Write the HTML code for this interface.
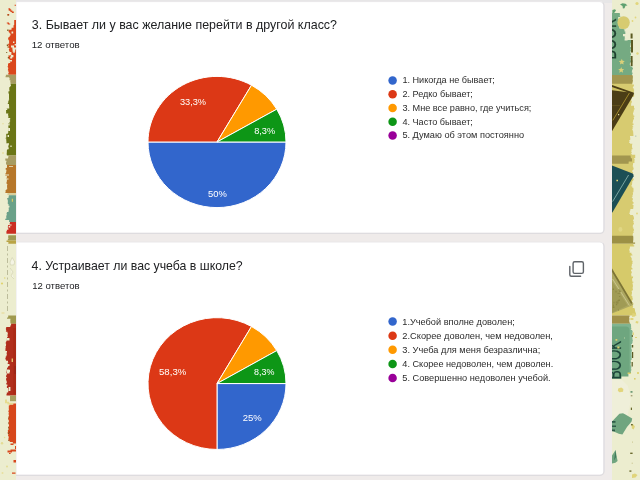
<!DOCTYPE html>
<html lang="ru"><head><meta charset="utf-8"><title>Опрос</title>
<style>
html,body{margin:0;padding:0;background:#ecedcf;}
body{width:640px;height:480px;overflow:hidden;font-family:"Liberation Sans", sans-serif;}
svg{display:block;font-family:"Liberation Sans", sans-serif;}
</style></head><body>
<svg width="640" height="480" viewBox="0 0 640 480">
<rect x="0" y="0" width="640" height="480" fill="#ecedcf"/>
<rect x="16" y="0" width="596" height="480" fill="#efebea"/>
<rect x="16" y="0" width="596" height="3" fill="#e7e6e7"/>
<path d="M16,1.6 H600 a4,4 0 0 1 4,4 V229.4 a4,4 0 0 1 -4,4 H16 Z" fill="#fff" stroke="#e9e7e9" stroke-width="1"/>
<path d="M602.8,2.8 a4,4 0 0 1 1.2,2.8 V229.4 a4,4 0 0 1 -4,4 H16" fill="none" stroke="#dedcdf" stroke-width="1.2"/>
<path d="M16,242 H600 a4,4 0 0 1 4,4 V471.3 a4,4 0 0 1 -4,4 H16 Z" fill="#fff" stroke="#e9e7e9" stroke-width="1"/>
<path d="M602.8,243.2 a4,4 0 0 1 1.2,2.8 V471.3 a4,4 0 0 1 -4,4 H16" fill="none" stroke="#dedcdf" stroke-width="1.2"/>
<defs><filter id="soft" x="-2%" y="-2%" width="104%" height="104%"><feGaussianBlur stdDeviation="0.42"/></filter><filter id="soft2" x="-5%" y="-1%" width="110%" height="102%"><feGaussianBlur stdDeviation="0.38"/></filter></defs>
<g filter="url(#soft2)">
<g id="left-strip">
<rect x="0" y="0" width="16" height="480" fill="#ecedcf"/>
<path d="M16,25.0 H13.6 V26.1 H13.5 V27.7 H11.6 V28.9 H11.5 V29.7 H8.9 V31.0 H8.5 V31.7 H8.9 V32.4 H9.6 V33.8 H10.4 V35.5 H9.6 V36.9 H8.9 V37.6 H8.1 V38.8 H8.3 V39.7 H8.5 V40.3 H9.1 V41.4 H9.1 V42.6 H9.1 V43.7 H7.9 V44.8 H8.5 V46.6 H8.4 V48.1 H9.3 V49.1 H8.9 V50.0 H9.1 V51.5 H9.9 V53.0 H10.5 V54.7 H10.0 V55.3 H8.5 V56.9 H8.4 V58.6 H8.7 V59.3 H9.8 V60.8 H9.7 V61.5 H10.2 V63.1 H8.4 V63.9 H8.0 V64.6 H8.0 V66.1 H7.7 V67.3 H8.1 V68.1 H8.2 V68.9 H8.0 V69.6 H7.9 V70.5 H8.4 V72.1 H8.7 V73.1 H8.3 V73.9 H8.4 V74.8 H16 Z" fill="#da461c"/>
<path d="M11.5,31.5 H13.2 V33.5 H11.5ZM8.3,33.4 H10.2 V35.6 H8.3ZM12.6,49 H15.2 V51.8 H12.6ZM13.4,51.8 H14.6 V53 H13.4ZM10.2,56.4 H12.2 V58.6 H10.2ZM9,60 H12 V61.6 H9ZM14.6,44 H16 V45.4 H14.6ZM11,45.6 H14 V47.6 H11ZM12.4,47.6 H16 V49.4 H12.4ZM8.6,52 H11.4 V55.2 H8.6ZM11,55 H13.4 V57.2 H11ZM13,41.6 H14.4 V43 H13Z" fill="#ecedcf"/>
<path d="M8.4,8.2 h1.8 v1 h1 v1.2 h1.2 v1 h1.4 v1.6 h-2 v-1 h-1.4 v-1.2 h-1.6 Z M7.4,14 h1.8 v1.4 h-1.8 Z M6.8,22.4 h2.2 v1.2 h1.2 v1 h-2.4 v-1 h-1 Z M14.6,4.8 h1.4 v1 h-1.4Z M14.2,20 h1.8 v5 h-1.8Z" fill="#da461c"/>
<path d="M7.6,14.6 H8.8 V15.6 H7.6ZM7.2,29.6 H8.6 V31 H7.2ZM6.8,44.6 H8 V46 H6.8ZM7.4,46.6 H8.4 V47.6 H7.4ZM7.8,57 H9 V58.2 H7.8ZM6.2,52 H7.2 V53 H6.2Z" fill="#7c5c1c"/>
<path d="M16,74.8 H5.9 V75.9 H5.6 V77.3 H9.2 V77.9 H9.6 V78.8 H9.5 V80.2 H10.4 V81.4 H10.2 V82.2 H10.5 V83.0 H10.6 V83.6 H10.5 V83.8 H16 Z" fill="#a79c62"/>
<path d="M16,83.8 H10.6 V84.7 H10.9 V86.1 H10.3 V86.9 H9.5 V87.6 H9.3 V89.1 H9.3 V90.3 H9.5 V91.2 H8.5 V92.7 H8.3 V93.3 H8.8 V94.1 H9.0 V95.6 H9.0 V97.2 H9.0 V98.8 H9.1 V99.7 H8.7 V100.9 H8.3 V102.1 H8.2 V103.1 H7.8 V104.1 H9.0 V105.6 H9.1 V107.3 H9.2 V108.5 H6.5 V109.3 H6.0 V110.4 H6.1 V111.2 H6.1 V112.1 H6.1 V113.4 H8.3 V114.1 H8.1 V115.0 H8.1 V115.8 H8.5 V116.5 H8.3 V118.1 H10.2 V119.6 H9.6 V120.2 H10.1 V121.7 H9.5 V123.0 H8.1 V124.1 H8.3 V125.7 H8.4 V126.5 H8.3 V127.5 H8.5 V128.3 H8.5 V129.6 H8.3 V130.4 H8.2 V131.7 H8.3 V132.7 H7.9 V133.7 H6.4 V134.4 H6.0 V135.2 H6.3 V135.8 H6.3 V137.1 H6.2 V137.7 H5.7 V138.7 H6.6 V139.3 H6.1 V140.0 H6.3 V140.9 H6.2 V141.6 H6.6 V142.6 H6.2 V143.2 H9.0 V144.4 H8.7 V145.6 H8.3 V146.9 H8.4 V147.6 H8.7 V149.2 H7.3 V150.1 H6.9 V151.6 H6.8 V152.9 H6.7 V153.8 H6.7 V154.6 H6.8 V155.3 H7.2 V155.4 H16 Z" fill="#6b7519"/>
<path d="M8.2,123.2 H9.6 V125.6 H8.2ZM8.2,128 H10 V131 H8.2ZM7.6,135 H9 V137 H7.6ZM10.4,145.6 H11.6 V147 H10.4ZM6,108.6 H7.2 V110 H6Z" fill="#ecedcf"/>
<path d="M2.4,123.2 H3.6 V124.2 H2.4ZM2,152.6 H4 V153.4 H2Z" fill="#e6d98c"/>
<path d="M16,155.4 H8.2 V156.1 H8.4 V157.5 H8.0 V158.4 H5.3 V159.8 H5.4 V160.7 H6.5 V161.8 H6.1 V162.5 H6.0 V164.1 H6.4 V165.0 H16 Z" fill="#a79c62"/>
<path d="M16,165.0 H7.0 V166.7 H6.9 V168.1 H5.7 V169.8 H6.4 V171.4 H6.1 V173.0 H5.6 V173.8 H5.4 V175.2 H5.2 V176.1 H6.9 V177.7 H6.4 V179.2 H6.9 V180.8 H6.9 V181.7 H6.5 V182.8 H6.6 V184.0 H7.3 V185.3 H7.0 V186.6 H7.1 V188.1 H7.2 V189.3 H6.4 V189.9 H5.6 V190.7 H5.6 V192.1 H5.4 V193.0 H16 Z" fill="#b6772b"/>
<path d="M9,166.2 H13 V167 H9ZM5,174.6 H9 V175.5 H5ZM6,178.6 H8.5 V179.4 H6Z" fill="#ecedcf"/>
<path d="M16,193.0 H7.5 V194.0 H7.4 V195.1 H7.8 V195.2 H16 Z" fill="#d6cf9c"/>
<path d="M16,195.2 H8.9 V196.4 H8.5 V198.1 H7.2 V199.5 H7.8 V200.9 H7.9 V201.5 H7.8 V202.9 H7.8 V204.1 H8.5 V205.7 H9.5 V206.7 H9.4 V207.4 H8.7 V209.0 H8.8 V210.4 H8.5 V212.0 H6.9 V213.2 H6.5 V214.6 H7.0 V215.3 H6.3 V216.4 H6.2 V217.1 H6.3 V218.7 H5.1 V219.3 H5.3 V219.9 H9.1 V220.9 H9.1 V222.0 H8.4 V222.0 H16 Z" fill="#6ba189"/>
<path d="M11.8,198.8 H13 V201.8 H11.8Z" fill="#d9c95e"/>
<path d="M16,222.0 H10.0 V222.8 H9.7 V223.8 H9.8 V224.9 H8.1 V226.1 H7.9 V227.0 H7.9 V228.3 H8.4 V229.7 H6.9 V231.3 H6.3 V232.1 H6.4 V233.6 H6.6 V233.8 H16 Z" fill="#cb2f23"/>
<path d="M8.6,226 H10.2 V227.6 H8.6ZM9.6,224.6 H11.6 V225.6 H9.6Z" fill="#ecedcf"/>
<path d="M16,235.2 H8.3 V236.6 H8.1 V237.7 H8.5 V238.8 H7.9 V239.7 H7.7 V240.4 H16 Z" fill="#9f9a52"/>
<path d="M16,240.4 H6.5 V242.0 H8.4 V243.5 H8.1 V243.8 H16 Z" fill="#b9a445"/>
<path d="M7.5,246 V313" stroke="#bcbc9a" stroke-width="1" stroke-dasharray="5 2.5 2 2.5" fill="none"/>
<path d="M10,262 l2.2,-4.5 l2.6,4.5 l-1,3 h-3.5 Z M10,268 l3,4 l-2,4 l3,3" stroke="#d2d2b2" stroke-width="0.7" fill="#f4f4e4"/>
<circle cx="2" cy="283.5" r="1.1" fill="#e0d470"/><circle cx="4.8" cy="278" r="0.7" fill="#e0d470"/><rect x="1.5" y="312.5" width="3" height="1" fill="#e6d890"/>
<path d="M16,315.6 H8.2 V317.3 H7.4 V317.9 H7.0 V318.7 H10.4 V320.0 H10.3 V321.6 H10.4 V323.3 H10.8 V323.8 H16 Z" fill="#a09a50"/>
<path d="M16,323.8 H11.1 V325.4 H10.3 V327.0 H6.2 V328.3 H5.9 V329.5 H6.1 V330.3 H6.2 V331.2 H5.9 V331.8 H7.5 V333.2 H7.9 V334.4 H7.4 V335.4 H7.7 V336.9 H7.1 V338.2 H6.9 V339.9 H6.8 V341.3 H6.1 V342.6 H5.6 V343.5 H6.1 V344.7 H6.0 V345.9 H5.6 V347.3 H5.7 V348.1 H5.5 V349.6 H5.4 V350.3 H5.5 V351.0 H7.0 V352.2 H6.7 V353.2 H6.6 V354.1 H6.8 V355.6 H6.3 V356.5 H5.7 V357.9 H5.4 V359.5 H6.1 V360.7 H8.0 V362.0 H8.2 V362.7 H7.6 V363.4 H7.8 V364.0 H8.1 V365.4 H8.2 V366.9 H7.6 V368.1 H7.0 V369.6 H6.7 V371.3 H6.3 V372.1 H6.1 V373.2 H6.9 V374.8 H6.3 V375.7 H6.1 V376.9 H6.7 V378.1 H6.2 V379.0 H6.1 V380.6 H6.6 V381.6 H6.8 V383.1 H6.3 V384.5 H7.4 V385.9 H6.9 V387.2 H6.9 V388.1 H8.0 V389.6 H8.4 V390.8 H8.3 V391.5 H8.2 V392.5 H6.8 V394.0 H6.5 V395.6 H16 Z" fill="#b12d1b"/>
<rect x="13.6" y="328" width="2.4" height="66" fill="#a32a18" opacity="0.5"/>
<path d="M7,338 H9.5 V340.6 H7ZM6.5,364 H9.5 V366 H6.5ZM7,370 H10 V372 H7ZM8.6,387 H10.4 V391 H8.6ZM6.6,369.6 H9.6 V373.6 H6.6Z" fill="#ecedcf"/>
<path d="M11.6,358.6 H13 V362 H11.6Z" fill="#e6c66e"/>
<path d="M14.6,366 H15.6 V374 H14.6Z" fill="#8f2414"/>
<rect x="10" y="395.6" width="6" height="5.6" fill="#a8a060"/>
<path d="M5,399.6 h2 v2.2 h2 v1 h4.2 v1.8 h-5.8 v-1.4 h-2.4Z" fill="#e6dc90"/>
<path d="M16,403.4 H13.3 V404.8 H9.5 V405.6 H8.8 V406.4 H8.8 V407.1 H8.8 V407.9 H8.8 V409.3 H8.9 V410.4 H8.4 V412.1 H8.8 V413.3 H8.6 V414.7 H8.9 V415.7 H8.9 V416.4 H8.4 V417.9 H8.3 V418.9 H8.3 V420.1 H8.8 V421.7 H8.9 V422.7 H8.3 V423.3 H8.7 V424.7 H9.0 V426.2 H8.5 V427.8 H8.8 V429.2 H8.6 V429.9 H7.8 V430.7 H8.0 V431.8 H7.7 V433.5 H8.3 V434.7 H8.1 V436.2 H8.7 V437.0 H8.7 V437.9 H8.5 V439.3 H8.4 V440.7 H9.7 V441.9 H12.8 V442.8 H12.9 V443.4 H16 Z" fill="#d7471a"/>
<path d="M8.3,440.0 H9.4 V440.7 H8.3ZM8.8,431.8 H9.5 V433.0 H8.8ZM8.1,422.6 H9.0 V423.5 H8.1ZM7.9,433.2 H9.0 V434.1 H7.9ZM8.8,431.5 H9.8 V432.2 H8.8ZM8.2,427.1 H8.9 V428.3 H8.2ZM8.6,416.8 H9.5 V417.6 H8.6ZM8.0,418.5 H8.9 V419.1 H8.0ZM8.5,428.4 H9.2 V429.5 H8.5Z" fill="#7a4a18"/>
<path d="M7.5,450.4 h3 v-0.8 h5.5 v2 h-4 v1 h-4.5Z M13.5,460 h2.5 v2.5 h-2.5Z M12,472.5 h3.5 v1.3 h-3.5Z M10.5,443.5 h3 v1.5 h-3Z M15,446 h1 v3 h-1Z M9,453 h1.6 v1 h-1.6Z" fill="#d7471a"/>
<circle cx="2" cy="443.3" r="1.2" fill="#e4dc94"/><circle cx="7" cy="466.5" r="1" fill="#e4dc94"/><circle cx="2.5" cy="473" r="1" fill="#e8e0a0"/><circle cx="4.6" cy="437.5" r="0.7" fill="#e4dc94"/>
</g>
<g id="right-strip">
<rect x="612" y="0" width="28" height="480" fill="#ecedcf"/>
<path d="M620,4.5 l2.5,-1.2 l3,0.4 l2,1.8 l-2,0.2 l-1,2.6 l-1.6,0.2 l-0.4,-2.4 Z M612.4,10 l2.6,-0.8 l1,1.2 l-1.6,2.4 l-2,0.4Z" fill="#5fa070"/>
<path d="M612,13.0 H619.6 V13.6 H620.0 V14.7 H619.6 V15.4 H620.1 V16.3 H620.3 V17.0 H618.2 V18.4 H618.3 V19.6 H618.9 V20.7 H618.2 V21.4 H618.8 V23.0 H618.7 V23.8 H619.4 V24.8 H618.9 V25.7 H619.0 V26.9 H619.3 V28.6 H623.8 V29.6 H625.4 V31.2 H625.4 V31.8 H625.3 V33.4 H625.4 V34.2 H624.9 V35.6 H624.7 V37.0 H624.7 V37.6 H624.8 V38.6 H625.2 V39.9 H631.2 V41.6 H631.1 V43.3 H630.5 V44.2 H630.6 V45.5 H630.2 V46.9 H630.9 V47.7 H630.9 V49.0 H630.6 V49.7 H630.8 V51.3 H630.4 V53.0 H630.8 V54.2 H631.0 V55.3 H630.4 V56.5 H631.0 V57.2 H630.4 V57.9 H630.8 V58.9 H630.6 V60.5 H632.7 V61.6 H632.4 V62.5 H630.1 V63.8 H629.7 V64.5 H630.1 V65.2 H630.5 V66.6 H632.4 V68.1 H632.9 V69.5 H632.1 V70.5 H632.1 V71.6 H631.8 V72.4 H632.5 V73.1 H632.6 V73.7 H632.2 V74.6 H632.1 V75.0 H612 Z" fill="#74aa82"/>
<path d="M624.5,29.4 H629 V31.4 H624.5ZM626,31.4 H631 V34 H626ZM623,34 H627.5 V36.2 H623ZM627.5,36 H631 V39.6 H627.5ZM624.6,38.6 H627.6 V40.4 H624.6Z" fill="#ecedcf"/>
<ellipse cx="623.6" cy="22.6" rx="6.2" ry="6.4" fill="#d7cb6f"/>
<path d="M630.6,33.4 H632.6 V38.6 H630.6ZM631,40 H633 V52.4 H631ZM630.8,56 H632.6 V66 H630.8Z" fill="#5c5a22"/>
<polygon points="621.8,58.8 622.6,60.8 624.8,61.0 623.2,62.4 623.7,64.6 621.8,63.4 619.9,64.6 620.4,62.4 618.8,61.0 621.0,60.8" fill="#dcd078"/>
<polygon points="621.2,67.0 622.0,69.0 624.2,69.2 622.6,70.6 623.1,72.8 621.2,71.6 619.3,72.8 619.8,70.6 618.2,69.2 620.4,69.0" fill="#dcd078"/>
<circle cx="637" cy="3.5" r="1.6" fill="#e2d67c"/><circle cx="635.5" cy="17.5" r="0.9" fill="#e2d67c"/><circle cx="637.5" cy="53.5" r="1.2" fill="#e2d67c"/><circle cx="632.5" cy="21" r="0.9" fill="#e2d67c"/>
<clipPath id="rs"><rect x="612" y="0" width="28" height="480"/></clipPath>
<g clip-path="url(#rs)" fill="#20402f" stroke="#20402f" stroke-width="0.35"><text transform="translate(616.4,59.5) rotate(-90)" font-size="19.5" textLength="41" lengthAdjust="spacingAndGlyphs">BOOK</text></g>
<path d="M612,75.0 H632.2 V76.2 H631.8 V77.8 H632.5 V79.1 H631.7 V80.7 H632.1 V82.0 H632.7 V83.2 H632.2 V84.4 H633.9 V86.1 H633.4 V87.0 H632.9 V88.2 H633.7 V89.5 H634.1 V90.5 H633.9 V92.2 H633.4 V93.5 H634.3 V94.2 H633.6 V95.1 H634.1 V96.7 H631.5 V97.5 H631.2 V98.3 H631.5 V99.0 H631.4 V99.9 H631.0 V100.7 H631.9 V101.3 H631.8 V102.8 H631.2 V103.5 H631.2 V104.3 H631.1 V104.9 H631.0 V105.7 H634.0 V107.1 H634.0 V108.2 H634.6 V109.4 H633.8 V110.4 H633.9 V111.5 H633.3 V113.0 H633.0 V114.6 H633.5 V115.8 H634.4 V116.7 H633.7 V118.1 H634.0 V119.3 H633.4 V119.9 H633.1 V121.2 H632.9 V122.3 H632.6 V123.5 H633.5 V125.1 H632.5 V126.2 H633.2 V127.3 H632.5 V128.2 H632.7 V129.0 H632.3 V130.3 H632.9 V131.6 H633.2 V133.3 H633.3 V134.4 H633.4 V136.1 H630.0 V137.5 H630.3 V138.7 H630.2 V140.0 H629.3 V140.8 H629.6 V141.7 H629.2 V143.0 H630.1 V143.8 H632.4 V144.5 H632.0 V145.9 H632.0 V147.7 H632.4 V148.3 H632.5 V149.3 H631.5 V150.9 H630.9 V151.5 H631.7 V153.0 H631.1 V153.8 H631.8 V154.8 H635.2 V156.3 H635.2 V158.0 H634.2 V159.5 H634.9 V160.1 H634.5 V161.4 H634.3 V162.2 H634.5 V163.1 H633.1 V164.2 H633.0 V164.9 H632.8 V165.7 H632.8 V166.7 H633.3 V168.2 H633.7 V169.4 H633.0 V170.2 H632.3 V170.9 H632.3 V171.9 H633.1 V172.9 H632.8 V173.5 H632.5 V174.5 H632.3 V175.9 H632.1 V176.6 H632.3 V178.3 H633.3 V179.0 H633.6 V180.3 H633.0 V181.3 H632.1 V181.9 H632.2 V183.4 H632.0 V184.9 H631.5 V186.5 H632.3 V187.8 H633.3 V188.6 H633.5 V189.7 H633.5 V190.6 H633.4 V192.3 H632.8 V193.1 H633.0 V194.8 H632.5 V195.9 H632.8 V196.6 H632.2 V197.4 H631.8 V198.0 H632.7 V199.1 H632.8 V199.9 H632.4 V201.3 H632.8 V202.1 H633.5 V203.7 H632.6 V204.9 H633.5 V206.5 H633.3 V208.1 H633.2 V209.1 H630.4 V210.6 H629.9 V211.8 H629.8 V212.7 H629.4 V213.9 H630.1 V215.1 H633.1 V215.9 H633.6 V216.9 H633.8 V217.8 H634.0 V219.5 H633.1 V221.0 H633.6 V222.1 H633.5 V222.9 H633.9 V224.5 H633.0 V225.5 H632.8 V226.2 H632.8 V227.4 H633.4 V228.9 H633.9 V230.2 H633.8 V231.2 H633.3 V232.2 H633.7 V232.9 H632.9 V234.5 H632.6 V235.9 H632.8 V236.0 H612 Z" fill="#d7cb6f"/>
<path d="M612,75.0 H632.4 V75.7 H632.8 V76.6 H632.9 V77.8 H632.7 V78.5 H632.7 V80.0 H632.9 V81.7 H632.3 V82.7 H632.2 V83.8 H612 Z" fill="#a2964f"/>
<path d="M612,85 L634,92.8 L633.5,95 L612,131.2 Z" fill="#4b3d13"/>
<path d="M612,87 L627.5,92.2 L612,90.2 Z" fill="#cbbd62"/>
<path d="M629.4,93 L612.8,120.4" stroke="#a88f30" stroke-width="0.9" fill="none"/>
<path d="M612,105.6 H620" stroke="#6a5a24" stroke-width="0.7" fill="none"/>
<path d="M618,114 H619.2 V115.2 H618Z" fill="#e8e0a0"/>
<path d="M612,155.6 H630.6 V156.8 H630.8 V158.3 H632.0 V159.9 H632.0 V161.6 H628.7 V162.5 H628.6 V163.7 H628.9 V163.8 H612 Z" fill="#a2964f"/>
<path d="M612,165.6 L632.6,173.6 Q633.8,174.4 633.6,176.2 L612.4,212.6 L612,212.6 Z" fill="#1f4f55"/>
<path d="M628.6,175 L612.6,201.6" stroke="#8fbdb6" stroke-width="0.8" fill="none"/>
<path d="M616.4,179.8 H618 V181.2 H616.4Z" fill="#e4d870"/>
<circle cx="637" cy="213.5" r="0.9" fill="#e2d67c"/><ellipse cx="620.4" cy="229.4" rx="2" ry="2.4" fill="#e0d684"/><rect x="635" y="135.4" width="1.4" height="1.6" fill="#c9d3c0"/>
<path d="M612,235.8 H633.2 V236.8 H633.3 V238.4 H633.3 V239.9 H633.2 V240.5 H633.2 V241.4 H633.0 V242.5 H635.1 V243.7 H635.4 V243.8 H612 Z" fill="#9c9044"/>
<path d="M612,243.8 H633.4 V245.2 H634.2 V246.5 H629.9 V248.0 H629.7 V249.3 H629.2 V250.5 H629.7 V251.9 H629.6 V252.8 H631.4 V254.2 H632.2 V255.9 H631.3 V257.4 H631.2 V258.1 H631.7 V259.1 H631.7 V260.7 H632.6 V262.0 H632.5 V262.6 H632.3 V263.5 H632.6 V264.1 H631.9 V265.7 H631.5 V266.9 H631.6 V267.9 H632.4 V269.5 H631.0 V271.1 H631.5 V272.5 H632.0 V273.7 H631.3 V275.0 H631.4 V276.4 H633.1 V277.3 H633.0 V277.9 H632.3 V279.1 H632.1 V280.5 H632.4 V281.8 H633.5 V282.4 H632.7 V283.1 H632.5 V284.3 H632.8 V285.5 H633.0 V286.7 H632.6 V287.6 H632.7 V289.0 H632.9 V290.2 H632.3 V290.8 H631.7 V292.1 H632.0 V293.5 H631.8 V294.5 H631.5 V296.1 H632.3 V297.7 H632.7 V299.3 H632.6 V300.3 H631.8 V301.9 H632.4 V303.5 H633.7 V304.3 H632.6 V305.2 H632.8 V306.1 H633.1 V306.8 H632.8 V307.9 H634.5 V309.3 H635.0 V311.0 H635.2 V312.6 H635.9 V314.1 H635.7 V314.8 H636.3 V315.6 H612 Z" fill="#d6ca6b"/>
<path d="M630.6,255.6 H632 V257 H630.6ZM631.4,273 H633 V274.8 H631.4Z" fill="#ecedcf"/>
<path d="M612,268.4 L632.4,302.8 L633.2,305 L612,313.6 Z" fill="#aca761"/>
<path d="M612,281 L627.5,305.6 L612,312.8 Z" fill="#a09b55"/>
<path d="M612,268.4 L632.4,302.8 L631.2,304 L612,271.8 Z" fill="#7d7434"/>
<path d="M612.6,279 L629.4,305.6" stroke="#d0cc94" stroke-width="0.8" fill="none"/>
<path d="M615.5,290.8 H616.5 V292.5 H615.5ZM617.1,302.3 H618.5 V303.4 H617.1ZM618.4,299.4 H619.9 V300.9 H618.4ZM619.2,296.0 H620.2 V296.9 H619.2ZM618.3,289.2 H619.7 V290.6 H618.3ZM613.0,304.6 H613.8 V306.3 H613.0ZM619.2,290.4 H620.8 V291.9 H619.2ZM613.5,301.7 H614.4 V303.5 H613.5ZM618.0,309.5 H618.9 V310.6 H618.0ZM617.5,300.2 H618.4 V301.9 H617.5ZM619.3,292.5 H620.2 V294.0 H619.3ZM615.8,301.6 H617.1 V302.8 H615.8ZM612.7,288.4 H613.9 V289.9 H612.7ZM615.9,303.6 H617.2 V305.3 H615.9ZM617.7,293.0 H618.7 V293.9 H617.7ZM612.8,306.6 H614.5 V308.1 H612.8Z" fill="#8b8642"/>
<path d="M612,315.6 H629.5 V316.9 H629.2 V318.3 H629.4 V319.7 H629.2 V321.0 H629.3 V322.0 H629.6 V323.0 H630.0 V323.8 H612 Z" fill="#a0904a"/>
<path d="M632.5,313 l3.5,1 l-1,2.5 l-3,0.5Z M636,321 l2.5,0.5 l-0.5,2 l-2.5,-0.5Z M632.5,332.5 h1.4 v2.4 h-1.4Z M635,337 h2 v1 h-2Z M630.4,318 h3 v2 h-3Z" fill="#e0d47a"/>
<path d="M612,323.8 H630.9 V324.6 H630.9 V325.5 H631.1 V326.7 H630.9 V327.6 H631.2 V328.4 H631.4 V329.3 H630.8 V330.0 H632.2 V331.1 H632.6 V332.5 H632.3 V333.7 H632.3 V335.1 H632.2 V336.0 H632.5 V336.6 H632.2 V337.2 H632.4 V338.5 H632.5 V339.8 H632.8 V341.3 H632.5 V343.0 H632.1 V344.0 H631.2 V345.1 H631.7 V346.8 H631.8 V347.6 H631.3 V349.0 H631.7 V350.5 H632.0 V351.6 H631.4 V352.3 H631.6 V353.8 H631.7 V354.4 H631.5 V355.6 H631.8 V356.4 H631.7 V358.0 H631.7 V358.8 H631.6 V360.1 H630.8 V361.7 H631.1 V363.2 H630.7 V364.0 H630.7 V365.5 H631.2 V367.1 H631.3 V368.0 H631.1 V368.8 H631.3 V369.7 H631.4 V370.4 H631.0 V371.4 H630.8 V372.0 H612 Z" fill="#80b490"/>
<path d="M612,326.6 H625.6 a4,4 0 0 1 4,4 V372 H612 Z" fill="#6ea67f"/>
<path d="M612,372 H631 V373 H628.4 V376.4 H621.4 V378.8 H612 Z" fill="#6ea67f"/>
<path d="M632,345 H633.2 V347.4 H632ZM632,352 H633.2 V358 H632ZM631.6,362 H632.8 V366.4 H631.6ZM631.8,335 H632.8 V337 H631.8Z" fill="#5c5a22"/>
<g clip-path="url(#rs)" fill="#1d4438" stroke="#1d4438" stroke-width="0.2"><text transform="translate(621,379.3) rotate(-90)" font-size="19.5" textLength="38.5" lengthAdjust="spacingAndGlyphs">BOOK</text></g>
<path d="M615.5,339 H617.3 V340.8 H615.5ZM617.3,346.4 H619.5 V348.4 H617.3ZM627.6,372.6 H630.8 V374 H627.6Z" fill="#dccf6c"/>
<path d="M624,337.5 H625 V338.5 H624Z" fill="#b9d4a8"/>
<path d="M612,380 h10 l6,6 l3,14 l-4,18 l-8,6 h-7 Z" fill="#f3f2e5" opacity="0.45"/>
<path d="M618.2,388.6 l3,-1 l2.2,1.5 l-0.4,2.6 l-3.6,0.6 l-1.6,-1.6Z" fill="#e2d57c"/>
<rect x="630.5" y="391" width="2" height="1.8" fill="#6f9c78"/><rect x="630.8" y="395" width="1.6" height="1.4" fill="#a8a078"/><rect x="630.8" y="407.6" width="1.2" height="2.4" fill="#6b6a2e"/><rect x="634" y="378" width="1.6" height="1.6" fill="#dccf6c"/><rect x="637" y="372" width="2" height="2" fill="#e2d67c"/>
<path d="M612,421.4 L619.4,413.8 L623,413.2 L625.4,414.4 L632.2,418.6 L631.6,421.6 L627,427 L622.4,434.4 L618.8,433.8 L612,430.8 Z" fill="#6fa57f"/>
<path d="M612,421 H615.5 V422.8 H612ZM612,425.4 H616 V427 H612ZM612,429.4 H615 V431.2 H612Z" fill="#2f5a46"/>
<path d="M615.6,450 L616.6,456 L617.6,461 L615.4,462.8 L612,463.6 L612,455.6 Z" fill="#6fa57f"/><path d="M615.6,450 L616.2,457 L614,460.4 Z" fill="#41795a"/>
<path d="M631.5,425 l2,-0.6 l1.4,2 l-1.2,3 l-1.8,-1Z M632,474.5 l3,-1 l2.5,1.5 l-2,2.5 l-3.5,0.5Z" fill="#e0d47a"/><rect x="630.2" y="452.6" width="2.4" height="1.4" fill="#6b6a2e"/><rect x="629.4" y="470.4" width="2" height="1.4" fill="#6b6a2e"/><rect x="631" y="424" width="1.8" height="1.4" fill="#6b6a2e"/><rect x="632" y="441.6" width="1" height="1" fill="#c8c48c"/><rect x="631.6" y="462.6" width="1.4" height="1.4" fill="#d8d4a8"/>
</g>
</g>
<g filter="url(#soft)">
<text x="31.8" y="28.75" font-size="12.4" fill="#202124" text-anchor="start" font-weight="normal" textLength="305.2" lengthAdjust="spacingAndGlyphs">3. Бывает ли у вас желание перейти в другой класс?</text>
<text x="31.7" y="48.0" font-size="8.4" fill="#202124" text-anchor="start" font-weight="normal" textLength="48" lengthAdjust="spacingAndGlyphs">12 ответов</text>
<path d="M217.00,142.00 L286.00,142.00 A69,65.6 0 0 1 148.00,142.00 Z" fill="#3366cc" stroke="#ffffff" stroke-width="1" stroke-linejoin="round"/>
<path d="M217.00,142.00 L148.00,142.00 A69,65.6 0 0 1 251.50,85.19 Z" fill="#dc3912" stroke="#ffffff" stroke-width="1" stroke-linejoin="round"/>
<path d="M217.00,142.00 L251.50,85.19 A69,65.6 0 0 1 276.76,109.20 Z" fill="#ff9900" stroke="#ffffff" stroke-width="1" stroke-linejoin="round"/>
<path d="M217.00,142.00 L276.76,109.20 A69,65.6 0 0 1 286.00,142.00 Z" fill="#109618" stroke="#ffffff" stroke-width="1" stroke-linejoin="round"/>
<text x="179.9" y="105.0" font-size="9.8" fill="#fff" text-anchor="start" font-weight="normal" textLength="26.2" lengthAdjust="spacingAndGlyphs">33,3%</text>
<text x="254.2" y="133.5" font-size="9.8" fill="#fff" text-anchor="start" font-weight="normal" textLength="21" lengthAdjust="spacingAndGlyphs">8,3%</text>
<text x="208" y="197.0" font-size="9.8" fill="#fff" text-anchor="start" font-weight="normal" textLength="18.8" lengthAdjust="spacingAndGlyphs">50%</text>
<circle cx="392.6" cy="80.40" r="4.25" fill="#3366cc"/>
<text x="402.4" y="83.45" font-size="9.5" fill="#2b2b2b" text-anchor="start" font-weight="normal" textLength="92.5" lengthAdjust="spacingAndGlyphs">1. Никогда не бывает;</text>
<circle cx="392.6" cy="94.15" r="4.25" fill="#dc3912"/>
<text x="402.4" y="97.2" font-size="9.5" fill="#2b2b2b" text-anchor="start" font-weight="normal" textLength="70.5" lengthAdjust="spacingAndGlyphs">2. Редко бывает;</text>
<circle cx="392.6" cy="107.90" r="4.25" fill="#ff9900"/>
<text x="402.4" y="110.95" font-size="9.5" fill="#2b2b2b" text-anchor="start" font-weight="normal" textLength="129" lengthAdjust="spacingAndGlyphs">3. Мне все равно, где учиться;</text>
<circle cx="392.6" cy="121.65" r="4.25" fill="#109618"/>
<text x="402.4" y="124.7" font-size="9.5" fill="#2b2b2b" text-anchor="start" font-weight="normal" textLength="70.5" lengthAdjust="spacingAndGlyphs">4. Часто бывает;</text>
<circle cx="392.6" cy="135.40" r="4.25" fill="#990099"/>
<text x="402.4" y="138.45" font-size="9.5" fill="#2b2b2b" text-anchor="start" font-weight="normal" textLength="121.7" lengthAdjust="spacingAndGlyphs">5. Думаю об этом постоянно</text>
<text x="31.6" y="269.9" font-size="12.4" fill="#202124" text-anchor="start" font-weight="normal" textLength="211" lengthAdjust="spacingAndGlyphs">4. Устраивает ли вас учеба в школе?</text>
<text x="32.2" y="289.4" font-size="8.4" fill="#202124" text-anchor="start" font-weight="normal" textLength="47.5" lengthAdjust="spacingAndGlyphs">12 ответов</text>
<path d="M217.00,383.55 L286.00,383.55 A69,65.9 0 0 1 217.00,449.45 Z" fill="#3366cc" stroke="#ffffff" stroke-width="1" stroke-linejoin="round"/>
<path d="M217.00,383.55 L217.00,449.45 A69,65.9 0 1 1 251.50,326.48 Z" fill="#dc3912" stroke="#ffffff" stroke-width="1" stroke-linejoin="round"/>
<path d="M217.00,383.55 L251.50,326.48 A69,65.9 0 0 1 276.76,350.60 Z" fill="#ff9900" stroke="#ffffff" stroke-width="1" stroke-linejoin="round"/>
<path d="M217.00,383.55 L276.76,350.60 A69,65.9 0 0 1 286.00,383.55 Z" fill="#109618" stroke="#ffffff" stroke-width="1" stroke-linejoin="round"/>
<text x="159" y="375.0" font-size="9.8" fill="#fff" text-anchor="start" font-weight="normal" textLength="27.3" lengthAdjust="spacingAndGlyphs">58,3%</text>
<text x="254.1" y="375.0" font-size="9.8" fill="#fff" text-anchor="start" font-weight="normal" textLength="20.4" lengthAdjust="spacingAndGlyphs">8,3%</text>
<text x="242.8" y="420.6" font-size="9.8" fill="#fff" text-anchor="start" font-weight="normal" textLength="19" lengthAdjust="spacingAndGlyphs">25%</text>
<circle cx="392.6" cy="321.60" r="4.25" fill="#3366cc"/>
<text x="402.3" y="324.95" font-size="9.5" fill="#2b2b2b" text-anchor="start" font-weight="normal" textLength="112.5" lengthAdjust="spacingAndGlyphs">1.Учебой вполне доволен;</text>
<circle cx="392.6" cy="335.70" r="4.25" fill="#dc3912"/>
<text x="402.3" y="339.05" font-size="9.5" fill="#2b2b2b" text-anchor="start" font-weight="normal" textLength="150.6" lengthAdjust="spacingAndGlyphs">2.Скорее доволен, чем недоволен,</text>
<circle cx="392.6" cy="349.80" r="4.25" fill="#ff9900"/>
<text x="402.3" y="353.15" font-size="9.5" fill="#2b2b2b" text-anchor="start" font-weight="normal" textLength="138" lengthAdjust="spacingAndGlyphs">3. Учеба для меня безразлична;</text>
<circle cx="392.6" cy="363.90" r="4.25" fill="#109618"/>
<text x="402.3" y="367.25" font-size="9.5" fill="#2b2b2b" text-anchor="start" font-weight="normal" textLength="150.9" lengthAdjust="spacingAndGlyphs">4. Скорее недоволен, чем доволен.</text>
<circle cx="392.6" cy="378.00" r="4.25" fill="#990099"/>
<text x="402.3" y="381.35" font-size="9.5" fill="#2b2b2b" text-anchor="start" font-weight="normal" textLength="148.4" lengthAdjust="spacingAndGlyphs">5. Совершенно недоволен учебой.</text>
<g fill="none" stroke="#5f6368" stroke-width="1.4" stroke-linecap="round" stroke-linejoin="round"><rect x="573.1" y="261.8" width="10.3" height="11.6" rx="1.6"/><path d="M569.8,266.5 V274.8 a1.5,1.5 0 0 0 1.5,1.5 H580.6"/></g>
</g>
</svg></body></html>
